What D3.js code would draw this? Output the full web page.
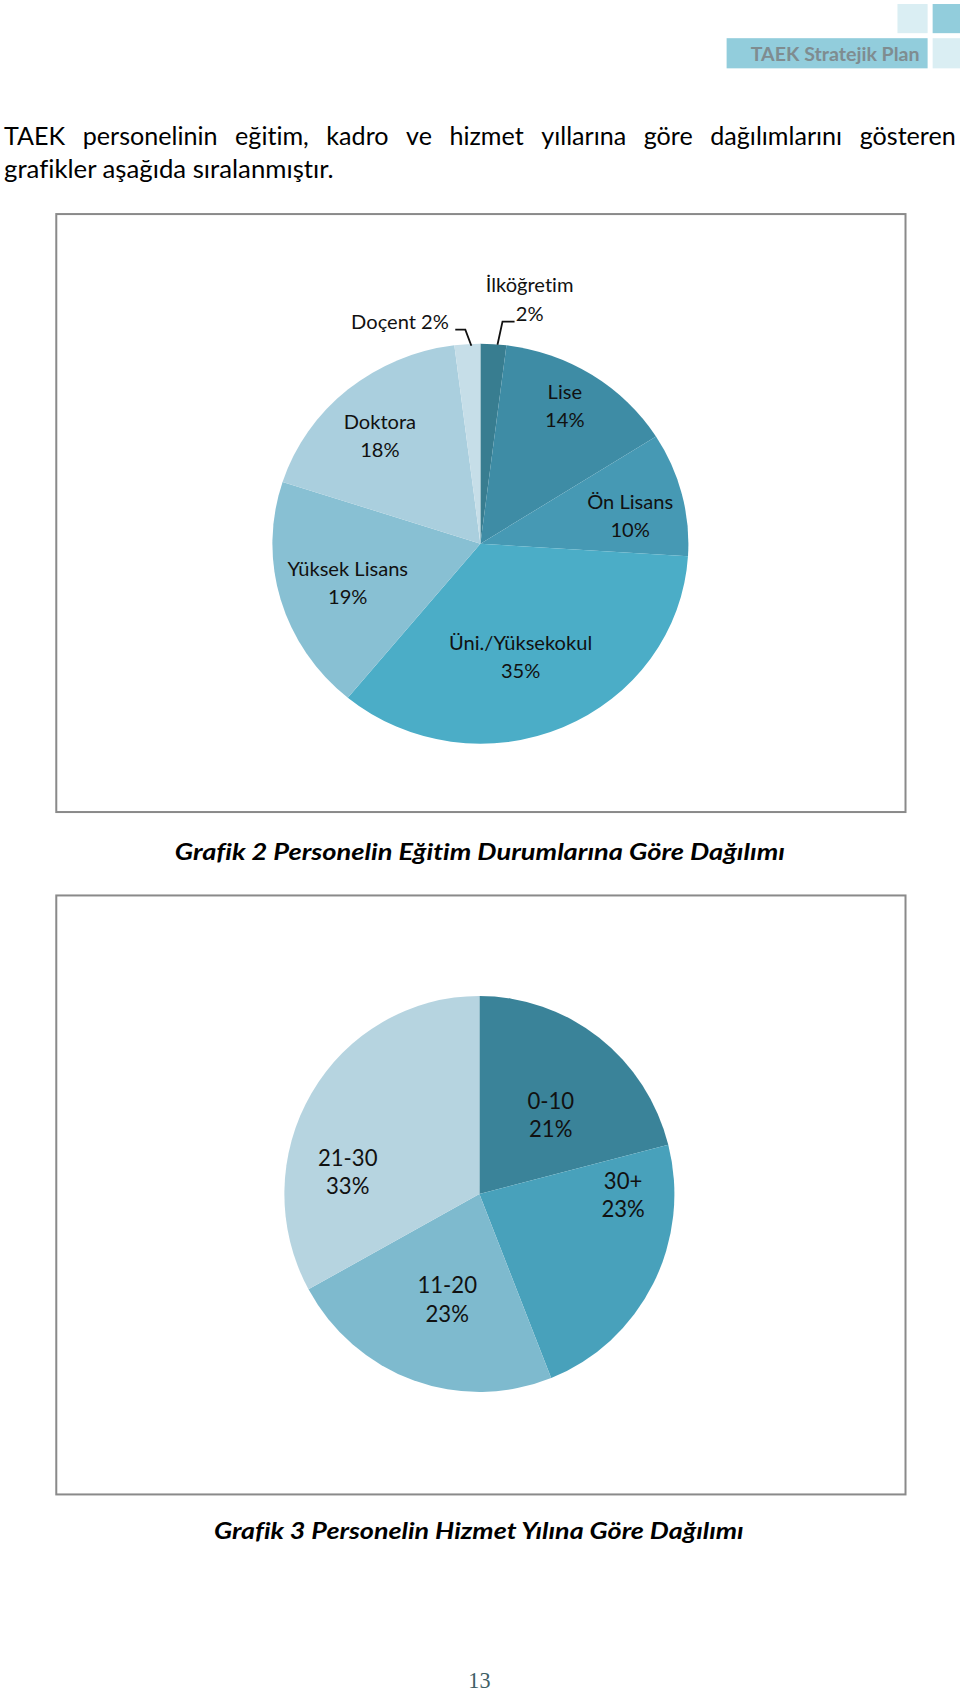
<!DOCTYPE html>
<html>
<head>
<meta charset="utf-8">
<script src="https://cdn.jsdelivr.net/npm/d3@7"></script>
<style>
body { margin: 0; background: #fff; }
svg { display: block; }
text { font-variant-ligatures: none; font-feature-settings: "liga" 0, "clig" 0; }
</style>
</head>
<body>
<svg id="page" width="960" height="1695"></svg>
<script>
// Grafik 2: eğitim durumu (saat 12'den saat yönünde)
const eduLabels = ["İlköğretim", "Lise", "Ön Lisans", "Üni./Yüksekokul", "Yüksek Lisans", "Doktora", "Doçent"];
const eduValues = [2, 14, 10, 35, 19, 18, 2];
const eduColors = ["#387d90", "#3e8ca5", "#4699b4", "#4badc7", "#88c0d3", "#aacfde", "#c6dee8"];

// Grafik 3: hizmet yılı
const srvLabels = ["0-10", "30+", "11-20", "21-30"];
const srvValues = [21, 23, 23, 33];
const srvColors = ["#3a8399", "#48a1bb", "#7ebace", "#b6d4e0"];

const bodyLines = [
    "TAEK personelinin eğitim, kadro ve hizmet yıllarına göre dağılımlarını gösteren",
    "grafikler aşağıda sıralanmıştır."
];
const caption2 = "Grafik 2  Personelin Eğitim Durumlarına Göre Dağılımı";
const caption3 = "Grafik 3 Personelin Hizmet Yılına Göre Dağılımı";

const root = d3.select("#page").append("g").attr("transform", "scale(1.005)");
const font = "Lato, 'Open Sans', sans-serif";

/* HEADER
 */
root.append("rect").attr("x", 893).attr("y", 4).attr("width", 30).attr("height", 29).attr("fill", "#daeef3");
root.append("rect").attr("x", 928).attr("y", 4).attr("width", 29).attr("height", 29).attr("fill", "#92cddc");
root.append("rect").attr("x", 723).attr("y", 38).attr("width", 200).attr("height", 30).attr("fill", "#92cddc");
root.append("rect").attr("x", 928).attr("y", 38).attr("width", 29).attr("height", 30).attr("fill", "#daeef3");
root.append("text")
    .attr("x", 915).attr("y", 61)
    .attr("text-anchor", "end")
    .style("font-family", font).style("font-weight", "bold").style("font-size", "19px")
    .attr("fill", "#7f8c90")
    .attr("textLength", 168).attr("lengthAdjust", "spacingAndGlyphs")
    .text("TAEK Stratejik Plan");

/* BODY TEXT (line 1 justified word by word)
 */
function justify(line, x0, x1, y, size) {
    const words = line.split(" ");
    const nodes = words.map((w) => root.append("text")
        .attr("y", y)
        .style("font-family", font).style("font-size", size + "px").attr("fill", "#000")
        .text(w));
    const widths = nodes.map((n) => n.node().getComputedTextLength());
    const gap = (x1 - x0 - d3.sum(widths)) / (words.length - 1);
    let x = x0;
    nodes.forEach(function(n, i) {
        n.attr("x", x);
        x += widths[i] + gap;
    });
}
justify(bodyLines[0], 4, 951, 144, 25);
root.append("text")
    .attr("x", 4).attr("y", 177)
    .style("font-family", font).style("font-size", "25px").attr("fill", "#000")
    .attr("textLength", 328).attr("lengthAdjust", "spacingAndGlyphs")
    .text(bodyLines[1]);

/* PIE HELPER
 */
function drawPie(opts) {
    const g = root.append("g")
        .attr("transform", `translate(${opts.cx},${opts.cy}) scale(${opts.sx},1)`);
    const pie = d3.pie().sort(null).value((d) => d.value);
    const arc = d3.arc().innerRadius(0).outerRadius(opts.r);
    const data = opts.labels.map((l, i) => ({label: l, value: opts.values[i], color: opts.colors[i]}));
    g.selectAll("path")
        .data(pie(data))
        .enter().append("path")
        .attr("d", arc)
        .attr("fill", (d) => d.data.color);
    return data;
}

function label(x, y, lines, size) {
    const t = root.append("text")
        .attr("text-anchor", "middle")
        .style("font-family", font).style("font-size", size + "px")
        .attr("fill", "#111");
    lines.forEach(function(line, i) {
        t.append("tspan").attr("x", x).attr("y", y + i * 28).text(line);
    });
}

/* GRAFIK 2
 */
root.append("rect").attr("x", 56).attr("y", 213).attr("width", 845).attr("height", 595)
    .attr("fill", "none").attr("stroke", "#8a8a8a").attr("stroke-width", 2);

drawPie({cx: 478, cy: 541, r: 199, sx: 1.04, labels: eduLabels, values: eduValues, colors: eduColors});

const eduPos = {
    "İlköğretim": [527, 291],
    "Lise": [562, 397],
    "Ön Lisans": [627, 506],
    "Üni./Yüksekokul": [518, 647],
    "Yüksek Lisans": [346, 573],
    "Doktora": [378, 427]
};
eduLabels.forEach(function(l, i) {
    const p = eduPos[l];
    if (!p) return;
    label(p[0], p[1], [l, eduValues[i] + "%"], 20);
});
root.append("text")
    .attr("x", 398).attr("y", 327)
    .attr("text-anchor", "middle")
    .style("font-family", font).style("font-size", "20px").attr("fill", "#111")
    .text(eduLabels[6] + " " + eduValues[6] + "%");
// leader lines
root.append("path").attr("d", "M512,320 L500,320 L495,343")
    .attr("fill", "none").attr("stroke", "#111").attr("stroke-width", 1.8);
root.append("path").attr("d", "M453,328 L463,328 L469,344")
    .attr("fill", "none").attr("stroke", "#111").attr("stroke-width", 1.8);

root.append("text")
    .attr("x", 174).attr("y", 856)
    .style("font-family", font).style("font-weight", "bold").style("font-style", "italic")
    .style("font-size", "23px").attr("fill", "#000")
    .attr("textLength", 607).attr("lengthAdjust", "spacingAndGlyphs")
    .text(caption2);

/* GRAFIK 3
 */
root.append("rect").attr("x", 56).attr("y", 891).attr("width", 845).attr("height", 596)
    .attr("fill", "none").attr("stroke", "#8a8a8a").attr("stroke-width", 2);

drawPie({cx: 477, cy: 1188, r: 197, sx: 0.985, labels: srvLabels, values: srvValues, colors: srvColors});

const srvPos = [[548, 1103], [620, 1183], [445, 1287], [346, 1160]];
srvLabels.forEach(function(l, i) {
    label(srvPos[i][0], srvPos[i][1], [l, srvValues[i] + "%"], 22);
});

root.append("text")
    .attr("x", 213).attr("y", 1531)
    .style("font-family", font).style("font-weight", "bold").style("font-style", "italic")
    .style("font-size", "23px").attr("fill", "#000")
    .attr("textLength", 527).attr("lengthAdjust", "spacingAndGlyphs")
    .text(caption3);

/* PAGE NUMBER
 */
root.append("text")
    .attr("x", 477).attr("y", 1680)
    .attr("text-anchor", "middle")
    .style("font-family", "'Liberation Serif', serif").style("font-size", "22px")
    .attr("fill", "#3f5f66")
    .text("13");
</script>
</body>
</html>
